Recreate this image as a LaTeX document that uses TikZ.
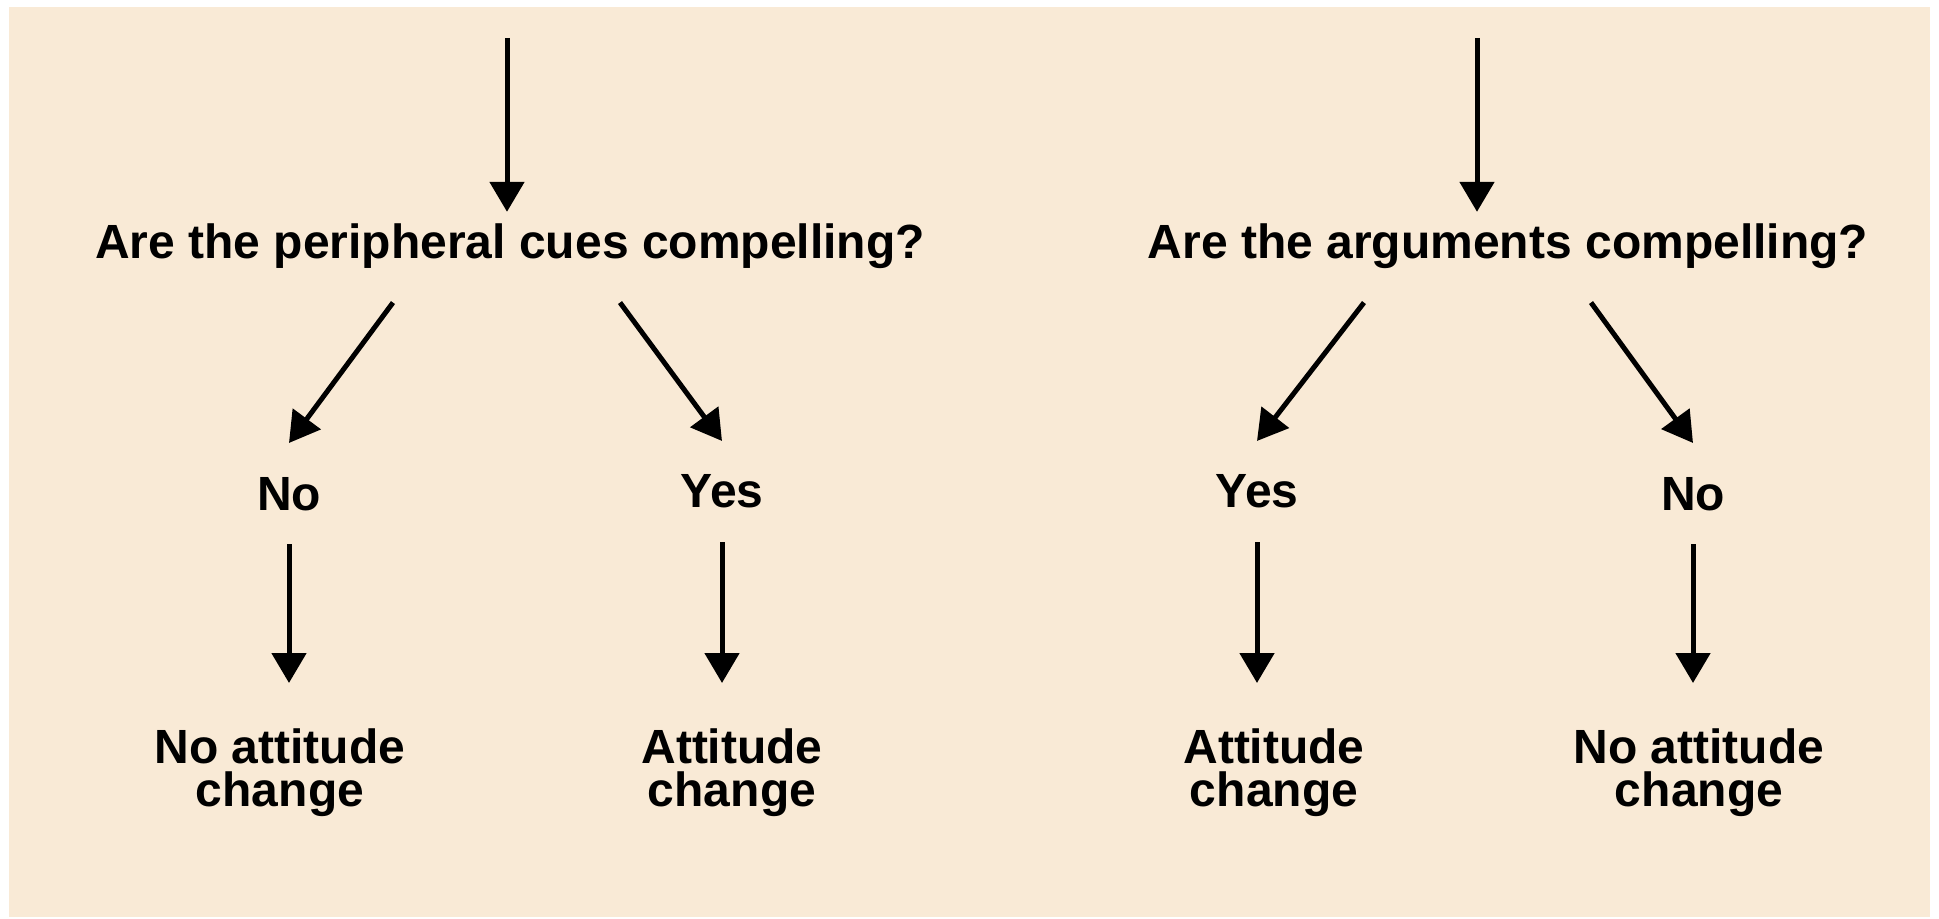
\documentclass[tikz,border=0pt]{standalone}
\usepackage{fontspec}
\setmainfont{Liberation Sans}
\usetikzlibrary{arrows.meta,calc}
\definecolor{paper}{RGB}{249,234,214}

\begin{document}
\begin{tikzpicture}[x=0.5pt,y=-0.5pt,
  lbl/.style={font=\bfseries\fontsize{24}{21.5}\selectfont, inner sep=0pt, text=black},
  answer/.style={lbl, outer sep=17pt},
  outcome/.style={lbl, align=center, outer sep=23pt, anchor=north},
  arr/.style={line width=2.5pt, -{Triangle[length=15pt,width=17pt]}},
]
\useasboundingbox (0,0) rectangle (1939,919);
\fill[white] (0,0) rectangle (1939,919);
\fill[paper] (9,7) rectangle (1930,917);

% ---- peripheral route ----
\coordinate (s1) at (507,38);
\node[lbl, anchor=base] (q1) at (510,259) {Are the peripheral cues compelling?};
\node[answer, anchor=base] (n1) at (289,510) {No};
\node[answer, anchor=base] (y1) at (722,508) {Yes};
\node[outcome] (r1) at (280,683) {No attitude\\change};
\node[outcome] (r2) at (732,683) {Attitude\\change};

\draw[arr] (s1) -- ($(s1 |- q1.north)+(0,-12)$);
\draw[arr] ($(s1 |- q1.south)+(-114,33)$) -- (n1.north);
\draw[arr] ($(s1 |- q1.south)+(113,33)$) -- (y1.north);
\draw[arr] (n1.south) -- (n1.south |- r1.north);
\draw[arr] (y1.south) -- (y1.south |- r2.north);

% ---- central route ----
\coordinate (s2) at (1477,38);
\node[lbl, anchor=base] (q2) at (1508,259) {Are the arguments compelling?};
\node[answer, anchor=base] (y2) at (1257,508) {Yes};
\node[answer, anchor=base] (n2) at (1693,510) {No};
\node[outcome] (r3) at (1274,683) {Attitude\\change};
\node[outcome] (r4) at (1699,683) {No attitude\\change};

\draw[arr] (s2) -- ($(s2 |- q2.north)+(0,-12)$);
\draw[arr] ($(s2 |- q2.south)+(-113,33)$) -- (y2.north);
\draw[arr] ($(s2 |- q2.south)+(114,33)$) -- (n2.north);
\draw[arr] (y2.south) -- (y2.south |- r3.north);
\draw[arr] (n2.south) -- (n2.south |- r4.north);
\end{tikzpicture}
\end{document}
